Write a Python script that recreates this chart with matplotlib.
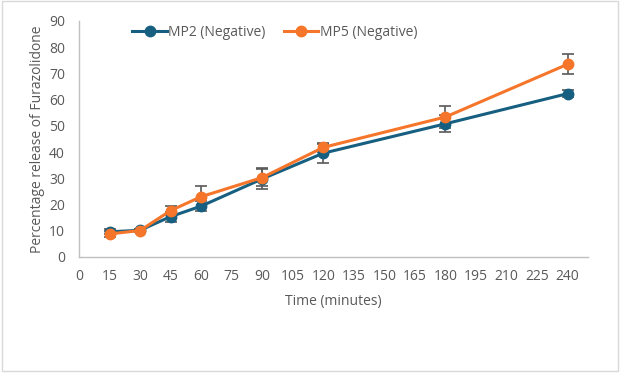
import matplotlib
matplotlib.use("Agg")
import matplotlib.pyplot as plt
from matplotlib.patches import Rectangle

plt.rcParams['font.family'] = ['Open Sans', 'DejaVu Sans']

time = [15, 30, 45, 60, 90, 120, 180, 240]
mp2 = [9.6, 10.2, 15.4, 19.4, 29.8, 39.6, 50.8, 62.3]
mp2_err = [1.0, 0.6, 1.9, 2.0, 4.0, 3.6, 3.3, 1.2]
mp5 = [8.8, 10.1, 17.7, 23.0, 30.3, 41.8, 53.4, 73.5]
mp5_err = [1.0, 0.6, 1.8, 4.2, 3.3, 1.7, 4.2, 3.8]

blue = '#175F80'
orange = '#F5762A'
grey = '#595959'

fig = plt.figure(figsize=(6.2, 3.73), dpi=100)
fig.patches.append(Rectangle((0.004, 0.006), 0.992, 0.99, transform=fig.transFigure,
                             fill=False, edgecolor='#D9D9D9', linewidth=1))
ax = fig.add_axes([79 / 620, 1 - 257 / 373, (588 - 79) / 620, (257 - 21) / 373])

ax.errorbar(time, mp2, yerr=mp2_err, color=blue, lw=2.2, marker='o', ms=7.5,
            ecolor=grey, elinewidth=1.2, capsize=4, capthick=1.2, label='MP2 (Negative)')
ax.errorbar(time, mp5, yerr=mp5_err, color=orange, lw=2.2, marker='o', ms=7.5,
            ecolor=grey, elinewidth=1.2, capsize=4, capthick=1.2, label='MP5 (Negative)')

ax.set_xlim(0, 250)
ax.set_ylim(0, 90)
ax.set_xticks(range(0, 241, 15))
ax.set_yticks(range(0, 91, 10))
ax.tick_params(length=0, labelsize=10, labelcolor=grey)
ax.tick_params(axis='x', pad=9)
ax.tick_params(axis='y', pad=10)
for s in ['top', 'right']:
    ax.spines[s].set_visible(False)
for s in ['left', 'bottom']:
    ax.spines[s].set_color('#BFBFBF')
    ax.spines[s].set_linewidth(1)

ax.set_xlabel('Time (minutes)', fontsize=10, color=grey, labelpad=7)
ax.set_ylabel('Percentage release of Furazolidone', fontsize=10, color=grey, labelpad=3)

handles, labels = ax.get_legend_handles_labels()
handles = [h[0] for h in handles]
ax.legend(handles, labels, loc='upper left', bbox_to_anchor=(0.08, 1.035), ncol=2,
          frameon=False, fontsize=10, labelcolor=grey, handlelength=2.5,
          handletextpad=0.1, columnspacing=1.3)

fig.savefig('out.png', dpi=100)
